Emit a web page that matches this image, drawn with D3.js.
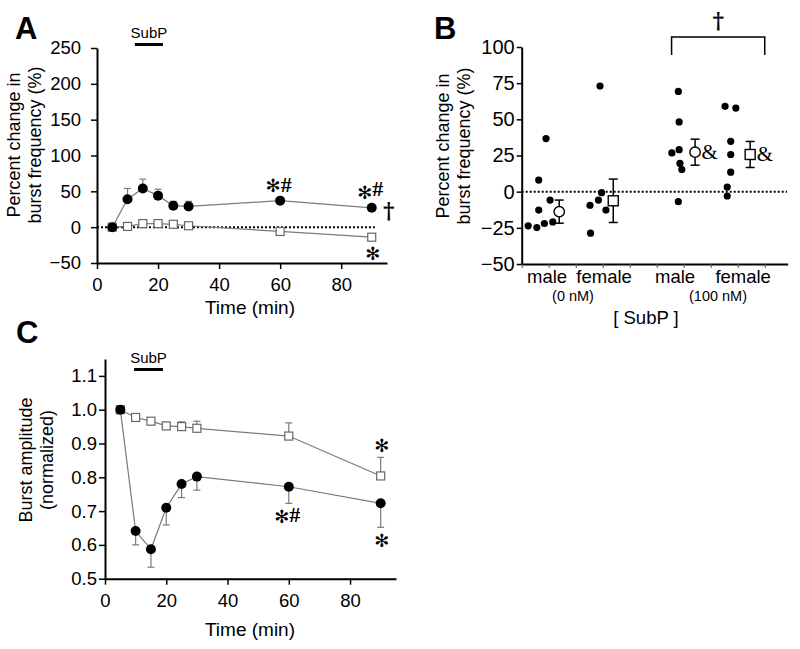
<!DOCTYPE html>
<html><head><meta charset="utf-8">
<script src="https://cdn.jsdelivr.net/npm/d3@7"></script>
<style>
body{margin:0;background:#fff;}
svg{display:block;}
text{font-family:Arial,"Liberation Sans",sans-serif;fill:#000;}
</style></head>
<body>
<svg id="c" width="800" height="649"></svg>
<script>
// ---------- DATA ----------
const timeMin = [5,10,15,20,25,30,60,90];
// Panel A: percent change in burst frequency
const freqSubP    = [0,39,54,44,30,29,37,27];
const freqSubPErr = [0,15,13,9,6,7,0,0];
const freqCtrl    = [0,1,5,5,4,2,-6,-14];
const freqCtrlErr = [0,2,4,4,4,3,0,0];
const aYTicks = [-50,0,50,100,150,200,250];
const aXTicks = [0,20,40,60,80];
const subpWindowA = [12.4,21.6];
// Panel C: burst amplitude (normalized)
const ampSubP    = [1.0,0.641,0.587,0.710,0.780,0.802,0.772,0.723];
const ampSubPErr = [0,0.041,0.053,0.051,0.040,0.040,0.049,0.071];
const ampCtrl    = [1.0,0.977,0.966,0.952,0.950,0.945,0.922,0.804];
const ampCtrlErr = [0,0.004,0.005,0.008,0.014,0.021,0.039,0.055];
const cYTicks = [0.5,0.6,0.7,0.8,0.9,1.0,1.1];
const cXTicks = [0,20,40,60,80];
const subpWindowC = [9.5,18.9];
// Panel B: individual responses
const bGroups = ["male","female","male","female"];
const bGroupX = [0.94,3.05,5.68,8.2];
const bConc = ["(0 nM)","(100 nM)"];
const bConcX = [1.9,7.27];
const bDotX = [
  [0.24,0.56,0.63,0.63,0.84,0.90,1.05,1.15],
  [2.53,2.55,2.84,2.90,2.96,3.12],
  [5.56,5.80,5.83,5.83,5.86,5.93,5.80],
  [7.53,7.93,7.74,7.74,7.74,7.61,7.61]
];
const bDotY = [
  [-23.6,-24.8,-12.7,8,-22,36.7,-5.8,-20.9],
  [-9.4,-28.7,-5.8,73,-0.7,-12.7],
  [26.8,69.3,48.2,29,19.5,15.3,-6.9],
  [59,57.8,34.8,25.7,13.5,3.2,-3]
];
const bMeanX = [1.39,3.39,6.42,8.46];
const bMean = [-13.8,-6.3,27.3,25.7];
const bSem = [8,15,9,9];
const bMarker = ["circle","square","circle","square"];
const bYTicks = [-50,-25,0,25,50,75,100];
const bXTicks = [0,1,2,3,4,5,6,7,8,9];

// ---------- DRAW ----------
const svg = d3.select("#c");
const GRAY = "#7a7a7a";
const SERIF = "'Times New Roman','Liberation Serif',serif";

function styleAxis(g, fs){
  g.select(".domain").attr("stroke","#000").attr("stroke-width",2);
  g.selectAll(".tick line").attr("stroke","#000").attr("stroke-width",1.5);
  g.selectAll(".tick text").style("font-size",(fs||18.5)+"px").style("font-family","Arial,'Liberation Sans',sans-serif");
}

function timePanel(cfg){
  const x = d3.scaleLinear().domain([0,95]).range(cfg.xr);
  const y = d3.scaleLinear().domain(cfg.yd).range(cfg.yr);
  const gx = svg.append("g").attr("transform",`translate(0,${cfg.yr[0]})`)
    .call(d3.axisBottom(x).tickValues(cfg.xt).tickSize(6).tickPadding(9).tickSizeOuter(0));
  styleAxis(gx);
  const gy = svg.append("g").attr("transform",`translate(${cfg.xr[0]},0)`)
    .call(d3.axisLeft(y).tickValues(cfg.yt).tickSize(6).tickPadding(cfg.yPad).tickSizeOuter(0).tickFormat(cfg.fmt));
  styleAxis(gy);
  svg.append("text").attr("x",250).attr("y",cfg.xTitleY).attr("text-anchor","middle").style("font-size","19px").text("Time (min)");
  cfg.yTitle.forEach((t,i)=>{
    svg.append("text").attr("transform",`translate(${cfg.yTitleX[i]},${cfg.yTitleC}) rotate(-90)`)
      .attr("text-anchor","middle").style("font-size","18px").text(t);
  });
  svg.append("text").attr("x",cfg.letterPos[0]).attr("y",cfg.letterPos[1]).style("font-size","31px").style("font-weight","bold").text(cfg.letter);
  svg.append("text").attr("x",(x(cfg.win[0])+x(cfg.win[1]))/2).attr("y",cfg.subpY).attr("text-anchor","middle").style("font-size","15px").text("SubP");
  svg.append("line").attr("x1",x(cfg.win[0])).attr("x2",x(cfg.win[1])).attr("y1",cfg.subpY+6.5).attr("y2",cfg.subpY+6.5).attr("stroke","#000").attr("stroke-width",3);
  if(cfg.zero){
    svg.append("line").attr("x1",x(0)).attr("x2",x(91)).attr("y1",y(0)).attr("y2",y(0))
      .attr("stroke","#000").attr("stroke-width",2).attr("stroke-dasharray","2,2");
  }
  const line = d3.line().x((d,i)=>x(timeMin[i])).y(d=>y(d));
  cfg.series.forEach(s=>{
    const eb = svg.append("g");
    s.vals.forEach((v,i)=>{
      const e = s.err[i]; if(!e) return;
      const yEnd = y(v + s.dir*e);
      eb.append("line").attr("x1",x(timeMin[i])).attr("x2",x(timeMin[i])).attr("y1",y(v)).attr("y2",yEnd).attr("stroke",GRAY).attr("stroke-width",1.2);
      eb.append("line").attr("x1",x(timeMin[i])-3.5).attr("x2",x(timeMin[i])+3.5).attr("y1",yEnd).attr("y2",yEnd).attr("stroke",GRAY).attr("stroke-width",1.2);
    });
    svg.append("path").attr("d",line(s.vals)).attr("fill","none").attr("stroke",GRAY).attr("stroke-width",1.2);
  });
  cfg.series.forEach(s=>{
    const g = svg.append("g");
    s.vals.forEach((v,i)=>{
      if(s.shape==="square"){
        g.append("rect").attr("x",x(timeMin[i])-4).attr("y",y(v)-4).attr("width",8).attr("height",8)
          .attr("fill","#fff").attr("stroke","#666").attr("stroke-width",1.2);
      } else {
        g.append("circle").attr("cx",x(timeMin[i])).attr("cy",y(v)).attr("r",5).attr("fill","#000");
      }
    });
  });
  return {x,y};
}

const A = timePanel({
  xr:[97,387], yd:[-50,250], yr:[263,48], xt:aXTicks, yt:aYTicks, yPad:10, fmt:d3.format("d"),
  xTitleY:314, yTitle:["Percent change in","burst frequency (%)"], yTitleX:[20,41], yTitleC:145,
  letter:"A", letterPos:[15,39], win:subpWindowA, subpY:38, zero:true,
  series:[{vals:freqCtrl,err:freqCtrlErr,dir:1,shape:"square"},{vals:freqSubP,err:freqSubPErr,dir:1,shape:"circle"}]
});
const C = timePanel({
  xr:[105,396], yd:[0.5,1.15], yr:[578.7,359], xt:cXTicks, yt:cYTicks, yPad:2, fmt:d3.format(".1f"),
  xTitleY:636, yTitle:["Burst amplitude","(normalized)"], yTitleX:[32,53], yTitleC:460,
  letter:"C", letterPos:[16,343], win:subpWindowC, subpY:363, zero:false,
  series:[{vals:ampCtrl,err:ampCtrlErr,dir:1,shape:"square"},{vals:ampSubP,err:ampSubPErr,dir:-1,shape:"circle"}]
});

// annotations
function ast(x,y,size){ svg.append("text").attr("x",x).attr("y",y).attr("text-anchor","middle").style("font-family","'DejaVu Sans'").style("font-size",(size||18)+"px").text("✻"); }
function ser(x,y,t,size,bold){ svg.append("text").attr("x",x).attr("y",y).style("font-family",SERIF).style("font-weight",bold?"bold":"normal").style("font-size",(size||20)+"px").text(t); }
function dag(x,y){ svg.append("text").attr("x",x).attr("y",y).attr("text-anchor","middle").style("font-family","'DejaVu Serif',serif").style("font-weight","bold").style("font-size","22px").text("†"); }
// A
ast(A.x(60)-7, A.y(freqSubP[6])-9); ser(A.x(60)+0.5, A.y(freqSubP[6])-9, "#", 22, true);
ast(A.x(90)-7, A.y(freqSubP[7])-9); ser(A.x(90)+0.5, A.y(freqSubP[7])-12, "#", 22, true);
dag(A.x(90)+17, A.y(freqSubP[7])+10);
ast(A.x(90)+1, A.y(freqCtrl[7])+23);
// C
ast(C.x(90)+1, C.y(ampCtrl[7]+ampCtrlErr[7])-5);
ast(C.x(60)-7, C.y(ampSubP[6]-ampSubPErr[6])+20); ser(C.x(60)+0.5, C.y(ampSubP[6]-ampSubPErr[6])+19, "#", 22, true);
ast(C.x(90)+1, C.y(ampSubP[7]-ampSubPErr[7])+20);

// ---------- PANEL B ----------
const bx = d3.scaleLinear().domain([0,9.85]).range([521.7,787.7]);
const by = d3.scaleLinear().domain([-50,100]).range([264,47]);
const gbx = svg.append("g").attr("transform","translate(0,264)")
  .call(d3.axisBottom(bx).tickValues(bXTicks).tickSize(4).tickFormat("").tickSizeOuter(0));
styleAxis(gbx);
gbx.selectAll(".tick line").attr("stroke","#555").attr("stroke-width",1);
const gby = svg.append("g").attr("transform","translate(521.7,0)")
  .call(d3.axisLeft(by).tickValues(bYTicks).tickSize(5).tickPadding(2).tickSizeOuter(0));
styleAxis(gby, 20);
svg.append("line").attr("x1",bx(0)).attr("x2",787).attr("y1",by(0)).attr("y2",by(0))
  .attr("stroke","#000").attr("stroke-width",2).attr("stroke-dasharray","2,2");
bGroups.forEach((g,i)=>{
  svg.append("text").attr("x",bx(bGroupX[i])).attr("y",283).attr("text-anchor","middle").style("font-size","18.5px").text(g);
});
bConc.forEach((c,i)=>{
  svg.append("text").attr("x",bx(bConcX[i])).attr("y",301).attr("text-anchor","middle").style("font-size","14.5px").text(c);
});
svg.append("text").attr("x",646).attr("y",324).attr("text-anchor","middle").style("font-size","18.5px").text("[ SubP ]");
["Percent change in","burst frequency (%)"].forEach((t,i)=>{
  svg.append("text").attr("transform",`translate(${[449,470][i]},146) rotate(-90)`)
    .attr("text-anchor","middle").style("font-size","18px").text(t);
});
svg.append("text").attr("x",434).attr("y",39).style("font-size","31px").style("font-weight","bold").text("B");
bDotX.forEach((xs,gi)=>{
  xs.forEach((xv,j)=>{
    svg.append("circle").attr("cx",bx(xv)).attr("cy",by(bDotY[gi][j])).attr("r",3.6).attr("fill","#000");
  });
});
bMeanX.forEach((xv,i)=>{
  const cx = bx(xv), lo = by(bMean[i]-bSem[i]), hi = by(bMean[i]+bSem[i]);
  svg.append("line").attr("x1",cx).attr("x2",cx).attr("y1",lo).attr("y2",hi).attr("stroke","#000").attr("stroke-width",1.5);
  [lo,hi].forEach(yy=>svg.append("line").attr("x1",cx-4.5).attr("x2",cx+4.5).attr("y1",yy).attr("y2",yy).attr("stroke","#000").attr("stroke-width",1.5));
  const cy = by(bMean[i]);
  if(bMarker[i]==="circle"){
    svg.append("circle").attr("cx",cx).attr("cy",cy).attr("r",5.2).attr("fill","#fff").attr("stroke","#000").attr("stroke-width",1.4);
  } else {
    svg.append("rect").attr("x",cx-5).attr("y",cy-5).attr("width",10).attr("height",10).attr("fill","#fff").attr("stroke","#000").attr("stroke-width",1.4);
  }
  if(bMean[i]>10) ser(cx+6.5, cy+6.5, "&", 21);
});
const brL = bx(5.55), brR = bx(9);
svg.append("path").attr("d",`M${brL},55V37H${brR}V55`).attr("fill","none").attr("stroke","#000").attr("stroke-width",1.5);
dag((brL+brR)/2, 28);
</script>
</body></html>
